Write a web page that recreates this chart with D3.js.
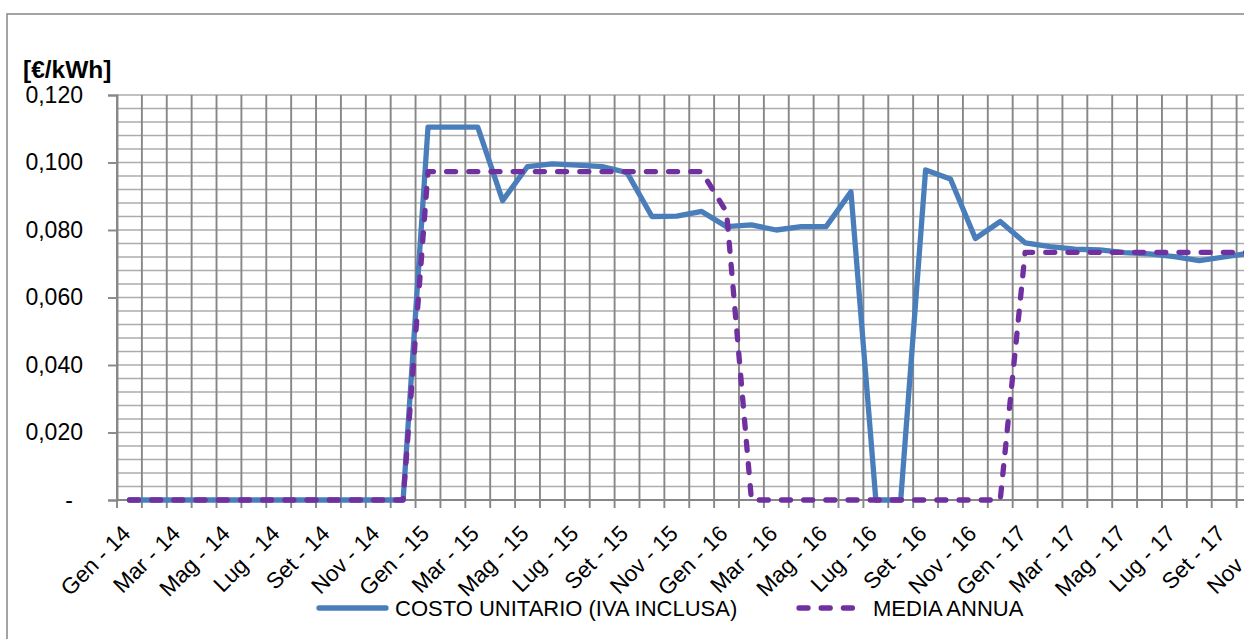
<!DOCTYPE html>
<html>
<head>
<meta charset="utf-8">
<script src="https://cdn.jsdelivr.net/npm/d3@7"></script>
<style>
  html, body { margin: 0; padding: 0; background: #fff; overflow: hidden; }
  svg { display: block; }
  text { font-family: "Liberation Sans", Arial, sans-serif; fill: #000; }
</style>
</head>
<body>
<svg id="chart" width="1244" height="639"></svg>
<script>
// ---- data ----
const monthNames = ["Gen","Feb","Mar","Apr","Mag","Giu","Lug","Ago","Set","Ott","Nov","Dic"];
const years = ["14","15","16","17"];
const categories = years.flatMap(y => monthNames.map(m => m + " - " + y));

const costoUnitario = [
  0, 0, 0, 0, 0, 0, 0, 0, 0, 0, 0, 0,
  0.1105, 0.1105, 0.1105, 0.0887, 0.0988, 0.0996, 0.0992, 0.0988, 0.0970, 0.0840, 0.0841, 0.0855,
  0.0810, 0.0815, 0.0800, 0.0810, 0.0810, 0.0913, 0, 0, 0.0978, 0.0951, 0.0775, 0.0825,
  0.0762, 0.0751, 0.0743, 0.0741, 0.0733, 0.0729, 0.0721, 0.0709, 0.0720, 0.0731, 0.0735, 0.0738
];
const mediaAnnua = [
  0, 0, 0, 0, 0, 0, 0, 0, 0, 0, 0, 0,
  0.0973, 0.0973, 0.0973, 0.0973, 0.0973, 0.0973, 0.0973, 0.0973, 0.0973, 0.0973, 0.0973, 0.0973,
  0.0853, 0, 0, 0, 0, 0, 0, 0, 0, 0, 0, 0,
  0.0734, 0.0734, 0.0734, 0.0734, 0.0734, 0.0734, 0.0734, 0.0734, 0.0734, 0.0734, 0.0734, 0.0734
];
const yTicks = [0, 0.02, 0.04, 0.06, 0.08, 0.10, 0.12];
const seriesNames = ["COSTO UNITARIO (IVA INCLUSA)", "MEDIA ANNUA"];
const unitLabel = "[€/kWh]";

// ---- layout ----
const svg = d3.select("#chart");
const plotLeft = 117, plotTop = 95, plotBottom = 500, monthW = 24.88;
const plotRight = plotLeft + categories.length * monthW;

svg.append("rect").attr("width", 1244).attr("height", 639).attr("fill", "#fff");
svg.append("rect").attr("x", 7).attr("y", 14).attr("width", 1400).attr("height", 800)
  .attr("fill", "none").attr("stroke", "#878787").attr("stroke-width", 1.5);

const x = d3.scaleBand().domain(categories).range([plotLeft, plotRight]).paddingInner(0).paddingOuter(0);
const y = d3.scaleLinear().domain([0, 0.12]).range([plotBottom, plotTop]);
const xc = d => x(d) + x.bandwidth() / 2;

// horizontal grid (minor every 0.004)
const hGrid = d3.range(0, 31).map(i => i * 0.004);
svg.append("g").selectAll("line").data(hGrid).join("line")
  .attr("x1", plotLeft).attr("x2", plotRight)
  .attr("y1", d => y(d)).attr("y2", d => y(d))
  .attr("stroke", "#adadad").attr("stroke-width", 1.7);

// vertical grid at category boundaries, with ticks below the axis
const boundaries = categories.map(c => x(c)).concat([plotRight]);
svg.append("g").selectAll("line").data(boundaries).join("line")
  .attr("x1", d => d).attr("x2", d => d)
  .attr("y1", plotTop).attr("y2", plotBottom + 8)
  .attr("stroke", "#878787").attr("stroke-width", 1.9);

// horizontal axis line
svg.append("line").attr("x1", plotLeft).attr("x2", plotRight).attr("y1", plotBottom).attr("y2", plotBottom)
  .attr("stroke", "#878787").attr("stroke-width", 1.9);

// y axis
const yAxis = d3.axisLeft(y).tickValues(yTicks).tickSize(9).tickPadding(25)
  .tickFormat(d => d === 0 ? "-" : d3.format(".3f")(d).replace(".", ","));
const gy = svg.append("g").attr("transform", `translate(${plotLeft},0)`).call(yAxis);
gy.select(".domain").attr("stroke", "#878787").attr("stroke-width", 1.9);
gy.selectAll(".tick line").attr("stroke", "#878787").attr("stroke-width", 1.9);
gy.selectAll(".tick text").attr("font-size", 23)
  .attr("font-family", "'Liberation Sans', Arial, sans-serif").attr("fill", "#000")
  .attr("dx", d => d === 0 ? -10 : 0);

// unit label
svg.append("text").attr("x", 23).attr("y", 78).attr("font-size", 24.5).attr("font-weight", "bold")
  .text(unitLabel);

// x labels every two months
const labelCats = categories.filter((c, i) => i % 2 === 0);
svg.append("g").selectAll("text").data(labelCats).join("text")
  .attr("transform", d => `translate(${xc(d) + 2.5},535) rotate(-45)`)
  .attr("text-anchor", "end").attr("font-size", 22.5)
  .text(d => d);

// lines
const lineGen = vals => d3.line()
  .x((d, i) => xc(categories[i]))
  .y(d => y(d))(vals);

svg.append("path").attr("d", lineGen(costoUnitario))
  .attr("fill", "none").attr("stroke", "#4a7ebb").attr("stroke-width", 5.3)
  .attr("stroke-linejoin", "round").attr("stroke-linecap", "round");

svg.append("path").attr("d", lineGen(mediaAnnua))
  .attr("fill", "none").attr("stroke", "#7030a0").attr("stroke-width", 5.3)
  .attr("stroke-dasharray", "9,13.2")
  .attr("stroke-linejoin", "round").attr("stroke-linecap", "round");

// legend
const lg = svg.append("g");
lg.append("line").attr("x1", 319).attr("x2", 386).attr("y1", 608).attr("y2", 608)
  .attr("stroke", "#4a7ebb").attr("stroke-width", 5.3).attr("stroke-linecap", "round");
lg.append("text").attr("x", 395).attr("y", 616).attr("font-size", 22).text(seriesNames[0]);
lg.append("line").attr("x1", 799).attr("x2", 857).attr("y1", 608).attr("y2", 608)
  .attr("stroke", "#7030a0").attr("stroke-width", 5.3).attr("stroke-linecap", "round")
  .attr("stroke-dasharray", "9,13.2");
lg.append("text").attr("x", 873).attr("y", 616).attr("font-size", 22).text(seriesNames[1]);
</script>
</body>
</html>
